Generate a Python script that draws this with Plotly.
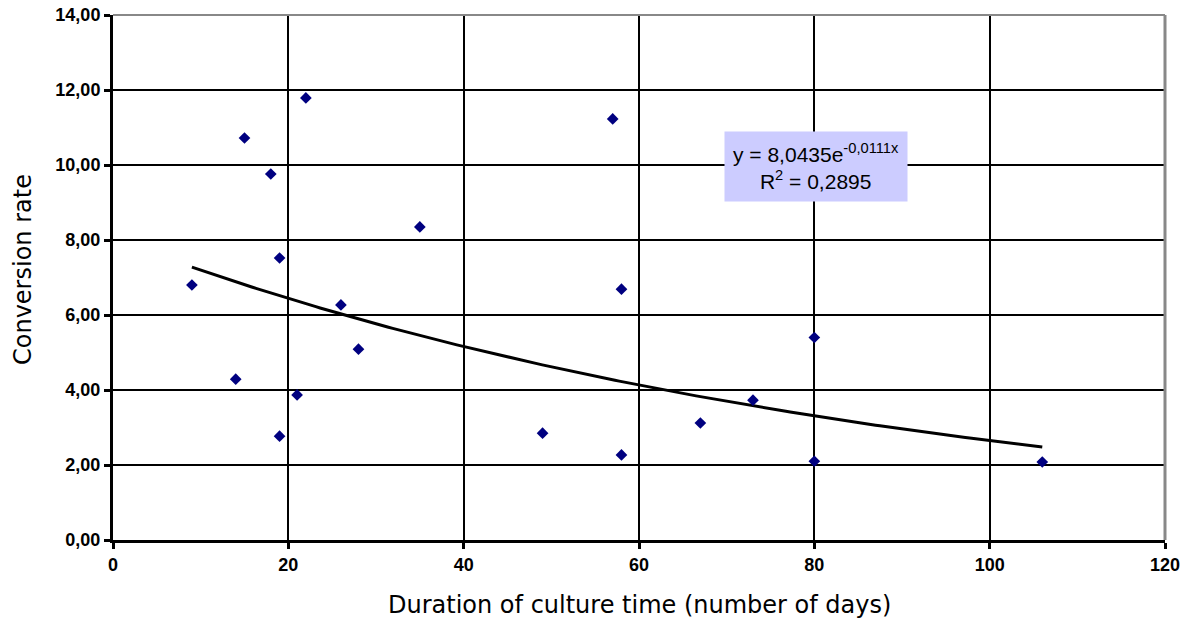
import numpy as np
import plotly.graph_objects as go

# Data
duration_days = [9, 14, 15, 18, 19, 19, 21, 22, 26, 28, 35, 49, 57, 58, 58, 67, 73, 80, 80, 106]
conversion_rate = [6.80, 4.29, 10.72, 9.76, 7.52, 2.77, 3.87, 11.79, 6.27, 5.09,
                   8.35, 2.85, 11.23, 6.69, 2.27, 3.12, 3.73, 5.40, 2.10, 2.08]

# Exponential trendline coefficients shown on the chart
trend_a = 8.0435
trend_b = -0.0111

x_ticks = [0, 20, 40, 60, 80, 100, 120]
y_ticks = [0, 2, 4, 6, 8, 10, 12, 14]
y_tick_labels = ["0,00", "2,00", "4,00", "6,00", "8,00", "10,00", "12,00", "14,00"]

x_title = "Duration of culture time (number of days)"
y_title = "Conversion rate"
equation_text = "y = 8,0435e<sup>-0,0111x</sup><br>R<sup>2</sup> = 0,2895"

x_trend = np.linspace(min(duration_days), max(duration_days), 200)
y_trend = trend_a * np.exp(trend_b * x_trend)

fig = go.Figure()
fig.add_trace(go.Scatter(
    x=x_trend, y=y_trend, mode="lines",
    line=dict(color="black", width=3), hoverinfo="skip", showlegend=False))
fig.add_trace(go.Scatter(
    x=duration_days, y=conversion_rate, mode="markers",
    marker=dict(symbol="diamond", size=9, color="#000080"), showlegend=False))

tick_font = dict(family="Liberation Sans, Arial", size=18, color="black", weight="bold")
title_font = dict(family="DejaVu Sans", size=24, color="black")

axis_common = dict(showgrid=True, gridcolor="black", gridwidth=2,
                   showline=True, linecolor="black", linewidth=3,
                   ticks="outside", ticklen=6, tickwidth=3, tickcolor="black",
                   tickfont=tick_font, zeroline=False, fixedrange=True,
                   automargin=False)

fig.update_layout(
    width=1187, height=621,
    margin=dict(l=113, r=22, t=15, b=81),
    paper_bgcolor="white", plot_bgcolor="white",
    xaxis=dict(range=[0, 120], tickvals=x_ticks, ticktext=[str(v) for v in x_ticks],
               **axis_common),
    yaxis=dict(range=[0, 14], tickvals=y_ticks, ticktext=y_tick_labels,
               **axis_common),
    shapes=[
        dict(type="line", xref="paper", yref="paper", x0=0, x1=1, y0=1, y1=1,
             line=dict(color="#888888", width=2)),
        dict(type="line", xref="paper", yref="paper", x0=1, x1=1, y0=0, y1=1,
             line=dict(color="#888888", width=3)),
    ],
    annotations=[
        dict(x=80.2, y=9.95, xref="x", yref="y", showarrow=False,
             text=equation_text,
             font=dict(family="Liberation Sans, Arial", size=21, color="black"),
             bgcolor="#CCCCFF", borderpad=8, align="center"),
        dict(x=60, y=0, xref="x", yref="paper", yanchor="middle", yshift=-65,
             showarrow=False, text=x_title, font=title_font),
        dict(x=0, y=7.2, xref="paper", yref="y", xanchor="center", xshift=-90,
             showarrow=False, text=y_title, textangle=-90, font=title_font),
    ],
)

fig.write_html(
    "out.html",
    config={"displayModeBar": False},
    post_script="document.body.style.margin='0';document.body.style.overflow='hidden';",
)
